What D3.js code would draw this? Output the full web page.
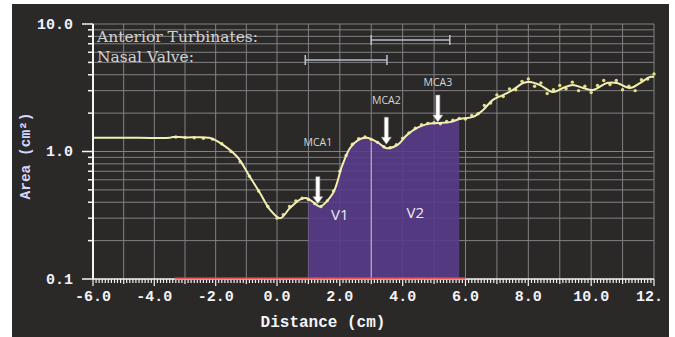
<!DOCTYPE html>
<html>
<head>
<meta charset="utf-8">
<script src="https://cdn.jsdelivr.net/npm/d3@7/dist/d3.min.js"></script>
<style>
  html, body { margin: 0; padding: 0; background: #fff; }
  svg { display: block; }
</style>
</head>
<body>
<div id="chart"></div>
<script>
// area-distance curve
const distance = [-6.0, -4.5, -3.5, -3.4, -3.0, -2.2, -1.86, -1.3, -0.88, -0.55, -0.23, 0.1, 0.41, 0.73, 0.95,
  1.27, 1.37, 1.78, 2.07, 2.32, 2.58, 2.86, 3.18, 3.5, 3.82, 4.14, 4.46, 4.77, 5.12, 5.51, 5.82, 6.24, 6.56,
  6.87, 7.19, 7.51, 7.83, 8.05, 8.37, 8.78, 9.1, 9.42, 9.74, 10.06, 10.5, 10.82, 11.23, 11.55, 11.87, 12.0];
const area = [1.28, 1.28, 1.28, 1.30, 1.29, 1.28, 1.17, 0.91, 0.63, 0.47, 0.35, 0.30, 0.36, 0.42, 0.43,
  0.38, 0.37, 0.47, 0.77, 1.06, 1.23, 1.28, 1.19, 1.06, 1.12, 1.35, 1.53, 1.64, 1.67, 1.70, 1.80, 1.87, 2.12,
  2.54, 2.77, 3.04, 3.44, 3.51, 3.32, 2.93, 3.15, 3.32, 3.15, 3.04, 3.44, 3.44, 3.15, 3.44, 3.84, 3.84];

// raw measurement dots
const dotDistance = [-3.3, -3.0, -2.7, -2.4, -2.1, -1.8, -1.5, -1.2, -0.9, -0.6, -0.3, 0.0, 0.2, 0.4, 0.6, 0.8,
  1.0, 1.2, 1.4, 1.6, 1.8, 2.0, 2.2, 2.4, 2.6, 2.8, 3.0, 3.2, 3.4, 3.6, 3.8, 4.0, 4.2, 4.4, 4.6, 4.8, 5.0, 5.2,
  5.4, 5.6, 5.8, 6.0, 6.2, 6.4, 6.6, 6.8, 7.0, 7.2, 7.4, 7.6, 7.8, 8.0, 8.2, 8.4, 8.6, 8.8, 9.0, 9.2, 9.4, 9.6,
  9.8, 10.0, 10.2, 10.4, 10.6, 10.8, 11.0, 11.2, 11.4, 11.6, 11.8, 12.0];
const dotArea = [1.30, 1.29, 1.28, 1.27, 1.25, 1.15, 1.0, 0.83, 0.64, 0.49, 0.37, 0.30, 0.32, 0.37, 0.41, 0.43,
  0.42, 0.39, 0.37, 0.41, 0.49, 0.70, 0.93, 1.14, 1.26, 1.30, 1.24, 1.18, 1.09, 1.07, 1.13, 1.27, 1.40, 1.52,
  1.62, 1.66, 1.68, 1.65, 1.72, 1.76, 1.82, 1.80, 1.92, 1.98, 2.30, 2.40, 2.78, 2.70, 3.10, 3.05, 3.55, 3.70,
  3.25, 3.45, 2.85, 3.05, 3.30, 3.10, 3.50, 3.00, 3.25, 2.90, 3.30, 3.60, 3.35, 3.60, 3.05, 3.25, 3.00, 3.65,
  3.70, 4.05];

const xTicks = [-6, -4, -2, 0, 2, 4, 6, 8, 10, 12];
const xTickLabels = ["-6.0", "-4.0", "-2.0", "0.0", "2.0", "4.0", "6.0", "8.0", "10.0", "12."];
const yTicks = [0.1, 1, 10];
const yTickLabels = ["0.1", "1.0", "10.0"];

const rangeNames = ["Anterior Turbinates:", "Nasal Valve:"];
const rangeStart = [3.0, 0.9];
const rangeEnd = [5.5, 3.5];

const volumeNames = ["V1", "V2"];
const volumeStart = [1.0, 3.0];
const volumeEnd = [3.0, 5.8];
const volumeLabelArea = [0.32, 0.33];

const mcaNames = ["MCA1", "MCA2", "MCA3"];
const mcaDistance = [1.3, 3.48, 5.12];
const mcaTip = [0.39, 1.14, 1.70];
const mcaLabelArea = [1.17, 2.54, 3.51];

const measuredRange = [-3.33, 6.0];

const W = 675, H = 337;
// screen photo is slightly keystoned, so the x scale has a knee at 0
const x = d3.scaleLinear().domain([-6, 0, 12]).range([93, 277, 654]);
const y = d3.scaleLog().domain([0.1, 10]).range([279, 24]);

const svg = d3.select("#chart").append("svg")
  .attr("width", W)
  .attr("height", H);

svg.append("rect")
  .attr("x", 12).attr("y", 4)
  .attr("width", 657).attr("height", H - 4)
  .attr("fill", "#2a2927");

const mono = "'Liberation Mono', 'Courier New', monospace";

// grid
const grid = svg.append("g")
  .attr("stroke", "#c9cad4")
  .attr("stroke-width", 1)
  .attr("opacity", 0.55);
grid.selectAll("line.v")
  .data(d3.range(-5, 13))
  .enter().append("line")
  .attr("x1", d => x(d)).attr("x2", d => x(d))
  .attr("y1", y(10)).attr("y2", y(0.1));
grid.selectAll("line.h")
  .data(y.ticks().filter(d => d > 0.1))
  .enter().append("line")
  .attr("x1", x(-6)).attr("x2", x(12))
  .attr("y1", d => y(d)).attr("y2", d => y(d));

const pts = distance.map((d, i) => [d, area[i]]);
const curve = d3.curveCatmullRom.alpha(0.5);

// shaded volumes
const defs = svg.append("defs");
volumeNames.forEach((name, i) => {
  defs.append("clipPath").attr("id", "clip" + i)
    .append("rect")
    .attr("x", x(volumeStart[i])).attr("y", 0)
    .attr("width", x(volumeEnd[i]) - x(volumeStart[i]))
    .attr("height", H);
  svg.append("path")
    .datum(pts)
    .attr("clip-path", "url(#clip" + i + ")")
    .attr("fill", "#583b8a")
    .attr("fill-opacity", 0.9)
    .attr("d", d3.area().curve(curve)
      .x(d => x(d[0])).y0(y(0.1)).y1(d => y(d[1])));
  svg.append("text")
    .attr("x", (x(volumeStart[i]) + x(volumeEnd[i])) / 2)
    .attr("y", y(volumeLabelArea[i]))
    .attr("text-anchor", "middle")
    .attr("dy", "0.35em")
    .attr("fill", "#ecebf4")
    .attr("font-family", "'Open Sans', sans-serif")
    .attr("font-size", 15)
    .text(name);
});
// divider between V1 and V2
svg.append("line")
  .attr("x1", x(volumeEnd[0])).attr("x2", x(volumeEnd[0]))
  .attr("y1", y(d3.max(pts.filter(p => p[0] >= volumeEnd[0]).slice(0, 1), p => p[1])))
  .attr("y2", y(0.1))
  .attr("stroke", "#cfd0dc").attr("stroke-width", 1.2).attr("opacity", 0.8);

// range bars (legend)
const legend = svg.append("g");
rangeNames.forEach((name, i) => {
  const by = 40 + i * 20;
  legend.append("text")
    .attr("x", 97).attr("y", by + 2)
    .attr("fill", "#d2d2d2")
    .attr("font-family", "'DejaVu Serif', serif")
    .attr("font-size", 15.5)
    .text(name);
  const g = legend.append("g").attr("stroke", "#b8bcc8").attr("stroke-width", 1.6);
  g.append("line").attr("x1", x(rangeStart[i])).attr("x2", x(rangeEnd[i])).attr("y1", by).attr("y2", by);
  [rangeStart[i], rangeEnd[i]].forEach(v => {
    g.append("line").attr("x1", x(v)).attr("x2", x(v)).attr("y1", by - 5).attr("y2", by + 5);
  });
});

// curve and dots
svg.append("g")
  .selectAll("circle")
  .data(dotDistance.map((d, i) => [d, dotArea[i]]))
  .enter().append("circle")
  .attr("cx", d => x(d[0])).attr("cy", d => y(d[1]))
  .attr("r", 1.7)
  .attr("fill", "#e2dc84");
svg.append("path")
  .datum(pts)
  .attr("fill", "none")
  .attr("stroke", "#f1efb4")
  .attr("stroke-width", 2)
  .attr("d", d3.line().curve(curve).x(d => x(d[0])).y(d => y(d[1])));

// y axis
const yAxis = svg.append("g");
yAxis.append("line")
  .attr("x1", x(-6)).attr("x2", x(-6))
  .attr("y1", y(10)).attr("y2", y(0.1))
  .attr("stroke", "#f4f4f0").attr("stroke-width", 2);
yAxis.selectAll("line.t")
  .data(y.ticks())
  .enter().append("line")
  .attr("x1", d => x(-6) - (yTicks.includes(d) ? 11 : 5)).attr("x2", x(-6))
  .attr("y1", d => y(d)).attr("y2", d => y(d))
  .attr("stroke", "#f4f4f0").attr("stroke-width", 1.5);
yAxis.selectAll("text")
  .data(yTicks)
  .enter().append("text")
  .attr("x", 73).attr("y", d => y(d))
  .attr("dy", "0.32em")
  .attr("text-anchor", "end")
  .attr("fill", "#f0f0ff")
  .attr("font-family", mono).attr("font-weight", "bold").attr("font-size", 15)
  .text((d, i) => yTickLabels[i]);
svg.append("text")
  .attr("transform", "translate(30,156) rotate(-90)")
  .attr("text-anchor", "middle")
  .attr("fill", "#d4d6ff")
  .attr("font-family", mono).attr("font-weight", "bold").attr("font-size", 14.5)
  .text("Area (cm²)");

// x axis: minor ticks every 0.1 cm
const xAxis = svg.append("g");
const xMinor = d3.range(-60, 121).map(d => d / 10);
xAxis.append("path")
  .attr("d", xMinor.map(d => {
    const k = Math.round(d * 10);
    const len = k % 20 === 0 ? 7 : k % 10 === 0 ? 5 : 4;
    return `M${x(d).toFixed(1)},${y(0.1)}v${len}`;
  }).join(""))
  .attr("stroke", "#f4f4f0").attr("stroke-width", 1.2).attr("fill", "none");
xAxis.append("line")
  .attr("x1", x(-6)).attr("x2", x(12))
  .attr("y1", y(0.1)).attr("y2", y(0.1))
  .attr("stroke", "#f4f4f0").attr("stroke-width", 1.5);
xAxis.append("line")
  .attr("x1", x(measuredRange[0])).attr("x2", x(measuredRange[1]))
  .attr("y1", y(0.1) - 0.5).attr("y2", y(0.1) - 0.5)
  .attr("stroke", "#e8565a").attr("stroke-width", 1.8);
xAxis.selectAll("text")
  .data(xTicks)
  .enter().append("text")
  .attr("x", (d, i) => i === xTicks.length - 1 ? x(d) - 18 : x(d))
  .attr("y", 296)
  .attr("dy", "0.35em")
  .attr("text-anchor", (d, i) => i === xTicks.length - 1 ? "start" : "middle")
  .attr("fill", "#f4f4fa")
  .attr("font-family", mono).attr("font-weight", "bold").attr("font-size", 15)
  .text((d, i) => xTickLabels[i]);
svg.append("text")
  .attr("x", 323).attr("y", 321)
  .attr("dy", "0.35em")
  .attr("text-anchor", "middle")
  .attr("fill", "#f4f4fa")
  .attr("font-family", mono).attr("font-weight", "bold").attr("font-size", 16)
  .text("Distance (cm)");

// MCA arrows
const arrows = svg.append("g");
mcaNames.forEach((name, i) => {
  const ax = x(mcaDistance[i]);
  const tip = y(mcaTip[i]);
  arrows.append("path")
    .attr("d", `M${ax - 2},${tip - 27} L${ax + 2},${tip - 27} L${ax + 2},${tip - 7} L${ax + 5},${tip - 7}
      L${ax},${tip} L${ax - 5},${tip - 7} L${ax - 2},${tip - 7} Z`)
    .attr("fill", "#ffffff")
    .attr("stroke", "#9a9a9a").attr("stroke-width", 0.6);
  arrows.append("text")
    .attr("x", ax).attr("y", y(mcaLabelArea[i]))
    .attr("dy", "0.35em")
    .attr("text-anchor", "middle")
    .attr("fill", "#d8d8d8")
    .attr("font-family", "'Open Sans', sans-serif")
    .attr("font-size", 10.5)
    .text(name);
});
</script>
</body>
</html>
